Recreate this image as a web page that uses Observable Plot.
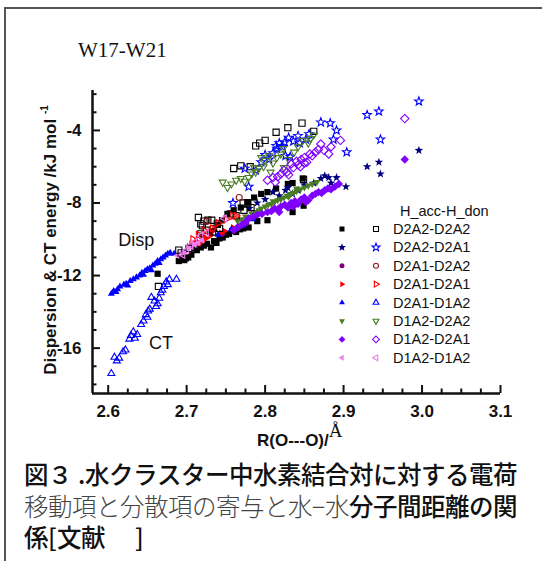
<!DOCTYPE html>
<html>
<head>
<meta charset="utf-8">
<script src="https://cdn.jsdelivr.net/npm/d3@7"></script>
<script src="https://cdn.jsdelivr.net/npm/@observablehq/plot@0.6"></script>
<style>
  @font-face { font-family: "CapCJK"; font-weight: 500; src: local("Noto Sans CJK JP Medium"), local("NotoSansCJKjp-Medium"), local("Noto Sans CJK JP Bold"), local("NotoSansCJKjp-Bold"); ascent-override: 88%; descent-override: 12%; line-gap-override: 0%; }
  @font-face { font-family: "CapCJK"; font-weight: 300; src: local("Noto Sans CJK JP Light"), local("NotoSansCJKjp-Light"), local("Noto Sans CJK JP DemiLight"), local("NotoSansCJKjp-DemiLight"), local("Noto Sans CJK JP Regular"), local("NotoSansCJKjp-Regular"); ascent-override: 88%; descent-override: 12%; line-gap-override: 0%; }
  html, body { margin: 0; padding: 0; background: #fff; }
  #page { position: relative; width: 542px; height: 561px; overflow: hidden; background: #fff; }
  .abs { position: absolute; white-space: nowrap; }
  .cap { font-family: "CapCJK", "Noto Sans CJK JP", "Noto Sans CJK SC", sans-serif; font-size: 24.5px; line-height: 31.5px; color: #111; font-weight: 500; }
  .thin { color: #444; font-weight: 300; }
</style>
</head>
<body>
<div id="page">
  <div class="abs" style="left:4px;top:7px;width:700px;height:700px;border-top:2px solid #555;border-left:2px solid #555;"></div>
  <div class="abs" style="left:78px;top:40px;font-family:'Liberation Serif','Times New Roman',serif;font-size:21px;line-height:21px;color:#111;">W17-W21</div>
  <div id="chart" class="abs" style="left:0;top:60px;"></div>
  <div id="ylab" class="abs" style="left:51px;top:240px;transform:translate(-50%,-50%) rotate(-90deg);font-family:'Liberation Sans',Arial,sans-serif;font-weight:bold;font-size:17px;line-height:17px;color:#111;">Dispersion &amp; CT energy /kJ mol <span style="font-size:10px;position:relative;top:-8px;">-1</span></div>
  <div class="abs" style="left:257px;top:431px;font-family:'Liberation Sans',Arial,sans-serif;font-weight:bold;font-size:17px;line-height:17px;color:#111;">R(O---O)/<span style="font-family:'Liberation Serif',serif;font-weight:normal;font-size:19px;position:relative;top:-9px;">Å</span></div>
  <div class="abs cap" style="left:24px;top:459px;">図３ .水クラスター中水素結合対に対する電荷<br><span class="thin">移動項と分散項の寄与と水−水</span>分子間距離の関<br>係[文献　 ]</div>
</div>
<script>
// ---------- data ----------
const seriesNames = ["D2A2-D2A2","D2A2-D2A1","D2A1-D2A2","D2A1-D2A1","D2A1-D1A2","D1A2-D2A2","D1A2-D2A1","D1A2-D1A2"];
const legendTitle = "H_acc-H_don";
const xMajor = [2.6, 2.7, 2.8, 2.9, 3.0, 3.1];
const xTickLabels = ["2.6","2.7","2.8","2.9","3.0","3.1"];
const xMinor = [2.625,2.65,2.675,2.725,2.75,2.775,2.825,2.85,2.875,2.925,2.95,2.975,3.025,3.05,3.075];
const yMajor = [-16, -12, -8, -4];
const yTickLabels = ["-16","-12","-8","-4"];
const yMinor = [-18,-17,-15,-14,-13,-11,-10,-9,-7,-6,-5,-3,-2];
const xDomain = [2.58, 3.1];
const yDomain = [-18.5, -1.8];
const annotations = [{x: 2.6127, y: -10.08, text: "Disp"}, {x: 2.652, y: -15.71, text: "CT"}];

// filled = dispersion, open = CT
const disp_D2A2_D2A2 = [[2.663,-11.9],[2.69,-11.2],[2.693,-11.1],[2.697,-11.15],[2.699,-11.05],[2.702,-11.0],[2.706,-10.85],[2.71,-10.5],[2.713,-10.6],[2.718,-10.45],[2.722,-10.35],[2.726,-10.25],[2.731,-10.45],[2.735,-10.1],[2.738,-10.2],[2.742,-9.95],[2.746,-9.9],[2.75,-9.75],[2.754,-9.7],[2.758,-9.55],[2.763,-9.6],[2.768,-9.45],[2.772,-9.4],[2.779,-9.35],[2.79,-9.0],[2.803,-8.95],[2.835,-8.5],[2.849,-8.15],[2.72,-9.8],[2.73,-9.6],[2.74,-9.2],[2.745,-8.95],[2.752,-8.6],[2.76,-8.4],[2.769,-8.25],[2.778,-7.95],[2.786,-7.7],[2.795,-7.5],[2.803,-7.4],[2.814,-7.2],[2.829,-6.95],[2.835,-6.9],[2.848,-6.65]];
const ct_D2A2_D2A2 = [[2.664,-12.6],[2.69,-10.6],[2.693,-10.75],[2.703,-10.5],[2.715,-8.8],[2.718,-9.15],[2.72,-9.25],[2.722,-9.0],[2.725,-9.5],[2.718,-9.7],[2.727,-8.95],[2.732,-8.95],[2.733,-9.6],[2.739,-9.15],[2.742,-9.4],[2.756,-8.6],[2.763,-8.7],[2.772,-8.0],[2.773,-8.4],[2.778,-8.0],[2.782,-8.25],[2.76,-6.1],[2.769,-5.95],[2.781,-6.0],[2.788,-4.85],[2.793,-4.7],[2.8,-4.55],[2.814,-4.1],[2.829,-3.85],[2.847,-3.6],[2.862,-4.05],[2.849,-6.7]];
const disp_D2A2_D2A1 = [[2.78,-8.3],[2.79,-8.0],[2.8,-7.8],[2.81,-7.4],[2.818,-7.6],[2.826,-7.3],[2.829,-7.15],[2.835,-7.5],[2.842,-7.3],[2.85,-7.0],[2.862,-6.9],[2.871,-6.65],[2.876,-6.5],[2.881,-6.6],[2.884,-6.9],[2.891,-6.6],[2.903,-7.1],[2.93,-6.0],[2.945,-5.75],[2.947,-6.4],[2.996,-5.1]];
const ct_D2A2_D2A1 = [[2.759,-8.0],[2.774,-6.1],[2.779,-7.1],[2.788,-6.2],[2.795,-5.75],[2.8,-5.35],[2.805,-5.6],[2.81,-5.25],[2.814,-4.85],[2.818,-4.7],[2.822,-4.9],[2.826,-5.4],[2.83,-4.4],[2.832,-5.45],[2.836,-4.6],[2.842,-4.3],[2.844,-4.7],[2.852,-4.5],[2.856,-4.2],[2.871,-3.55],[2.883,-3.6],[2.887,-4.5],[2.891,-4.0],[2.904,-5.2],[2.93,-3.15],[2.945,-2.95],[2.947,-4.5],[2.996,-2.4],[2.815,-5.0],[2.825,-4.65]];
const disp_D2A1_D2A2 = [[2.745,-9.7],[2.765,-9.35],[2.776,-9.1]];
const ct_D2A1_D2A2 = [[2.767,-7.7],[2.733,-9.4],[2.726,-9.0]];
const disp_D2A1_D2A1 = [[2.703,-10.4],[2.706,-10.25],[2.712,-10.1],[2.716,-10.25],[2.72,-10.1],[2.725,-9.95],[2.73,-9.8],[2.735,-9.5],[2.744,-9.65],[2.748,-9.55],[2.759,-9.35]];
const ct_D2A1_D2A1 = [[2.708,-10.0],[2.715,-9.75],[2.722,-9.5],[2.725,-9.8],[2.733,-9.4],[2.74,-9.1],[2.75,-8.9],[2.759,-8.7],[2.763,-8.7]];
const disp_D2A1_D1A2 = [[2.604,-13.0],[2.607,-12.85],[2.61,-12.9],[2.612,-12.75],[2.615,-12.6],[2.62,-12.5],[2.623,-12.45],[2.625,-12.55],[2.628,-12.3],[2.632,-12.2],[2.636,-12.1],[2.64,-12.0],[2.643,-11.85],[2.645,-11.95],[2.647,-11.75],[2.65,-11.65],[2.653,-11.6],[2.655,-11.7],[2.657,-11.45],[2.66,-11.35],[2.663,-11.2],[2.665,-11.3],[2.667,-11.1],[2.67,-11.0],[2.673,-10.9],[2.676,-10.8],[2.679,-10.75],[2.684,-10.8],[2.74,-9.75],[2.757,-9.45],[2.772,-9.25],[2.785,-8.9]];
const ct_D2A1_D1A2 = [[2.604,-17.4],[2.608,-16.5],[2.611,-16.7],[2.614,-16.55],[2.619,-16.2],[2.622,-16.1],[2.627,-15.5],[2.629,-15.3],[2.632,-15.1],[2.634,-15.45],[2.637,-15.25],[2.642,-14.7],[2.645,-14.5],[2.648,-14.15],[2.65,-14.3],[2.651,-13.95],[2.653,-13.85],[2.655,-13.2],[2.659,-13.4],[2.661,-13.7],[2.663,-13.55],[2.665,-13.25],[2.667,-12.95],[2.669,-12.8],[2.671,-12.6],[2.674,-12.35],[2.676,-12.5],[2.678,-12.2],[2.687,-12.2]];
const disp_D1A2_D2A2 = [[2.765,-9.0],[2.77,-8.9],[2.775,-8.75],[2.779,-8.8],[2.783,-8.6],[2.788,-8.5],[2.79,-8.55],[2.792,-8.4],[2.795,-8.3],[2.8,-8.2],[2.804,-8.1],[2.808,-8.05],[2.81,-7.9],[2.812,-7.95],[2.816,-7.85],[2.82,-7.8],[2.824,-7.7],[2.828,-7.6],[2.83,-7.65],[2.832,-7.5],[2.836,-7.45],[2.84,-7.35],[2.84,-7.2],[2.845,-7.25],[2.85,-7.15],[2.855,-7.05],[2.86,-6.95],[2.866,-6.85]];
const ct_D1A2_D2A2 = [[2.746,-6.85],[2.752,-7.15],[2.757,-6.95],[2.763,-6.75],[2.769,-6.65],[2.774,-6.8],[2.779,-6.6],[2.783,-6.4],[2.786,-6.05],[2.788,-6.3],[2.792,-6.1],[2.795,-5.5],[2.798,-6.0],[2.8,-5.65],[2.805,-5.4],[2.807,-6.3],[2.81,-5.8],[2.815,-5.5],[2.82,-5.3],[2.823,-5.0],[2.824,-6.05],[2.83,-5.6],[2.837,-5.2],[2.842,-4.9],[2.848,-4.55],[2.855,-4.7],[2.858,-4.45],[2.862,-4.25]];
const disp_D1A2_D2A1 = [[2.76,-9.5],[2.765,-9.35],[2.77,-9.2],[2.775,-9.05],[2.779,-8.85],[2.785,-8.75],[2.79,-8.65],[2.796,-8.6],[2.803,-8.5],[2.808,-8.45],[2.812,-8.3],[2.816,-8.35],[2.818,-8.5],[2.82,-8.2],[2.825,-8.1],[2.829,-8.25],[2.833,-8.0],[2.836,-8.2],[2.838,-7.9],[2.842,-8.05],[2.846,-7.8],[2.85,-7.7],[2.852,-7.95],[2.855,-7.85],[2.86,-7.6],[2.864,-7.5],[2.868,-7.4],[2.872,-7.45],[2.876,-7.3],[2.88,-7.2],[2.884,-7.25],[2.889,-7.1],[2.894,-6.95],[2.978,-5.6]];
const ct_D1A2_D2A1 = [[2.803,-6.75],[2.81,-6.6],[2.813,-6.85],[2.816,-6.55],[2.82,-6.4],[2.824,-6.2],[2.828,-6.3],[2.83,-6.45],[2.833,-5.85],[2.836,-6.05],[2.84,-5.7],[2.842,-5.9],[2.845,-6.0],[2.846,-5.6],[2.85,-5.5],[2.85,-5.8],[2.853,-5.75],[2.857,-5.3],[2.86,-5.4],[2.864,-5.2],[2.868,-5.05],[2.871,-4.75],[2.875,-5.1],[2.881,-5.3],[2.884,-4.9],[2.896,-4.55],[2.978,-3.35]];
const disp_D1A2_D1A2 = [[2.688,-10.9],[2.693,-10.75],[2.698,-10.65],[2.702,-10.55],[2.706,-10.4],[2.71,-10.3],[2.715,-10.2],[2.72,-10.05]];
const ct_D1A2_D1A2 = [[2.695,-10.85],[2.7,-10.6],[2.705,-10.35],[2.71,-10.15],[2.718,-9.8],[2.725,-9.65],[2.748,-8.85]];

const dispData = [disp_D2A2_D2A2, disp_D2A2_D2A1, disp_D2A1_D2A2, disp_D2A1_D2A1, disp_D2A1_D1A2, disp_D1A2_D2A2, disp_D1A2_D2A1, disp_D1A2_D1A2];
const ctData = [ct_D2A2_D2A2, ct_D2A2_D2A1, ct_D2A1_D2A2, ct_D2A1_D2A1, ct_D2A1_D1A2, ct_D1A2_D2A2, ct_D1A2_D2A1, ct_D1A2_D1A2];

// ---------- styles ----------
const dispColors = ["#000000","#00007f","#800080","#ff0000","#0000ff","#4a7d22","#8000ff","#f080f0"];
const ctColors   = ["#000000","#0000ff","#8b1a1a","#ff0000","#0000ff","#4a7d22","#8000ff","#f080f0"];
const symbolKinds = ["square","star","circle","right","up","down","diamond","left"];
const plotR = [3.1, 3.2, 3.0, 3.1, 3.1, 3.1, 3.1, 3.1];
const legendR = [2.5, 3.0, 2.5, 2.6, 2.6, 2.6, 2.5, 2.6];

function makeSym(kind) {
  return {
    draw(ctx, size) {
      const r = Math.sqrt(size / Math.PI);
      if (kind === "square") { ctx.moveTo(-r,-r); ctx.lineTo(r,-r); ctx.lineTo(r,r); ctx.lineTo(-r,r); ctx.closePath(); return; }
      if (kind === "circle") { ctx.moveTo(r,0); ctx.arc(0,0,r,0,2*Math.PI); ctx.closePath(); return; }
      if (kind === "diamond") { const q = r*1.35; ctx.moveTo(0,-q); ctx.lineTo(q,0); ctx.lineTo(0,q); ctx.lineTo(-q,0); ctx.closePath(); return; }
      if (kind === "star") {
        const R = r*1.4, ri = R*0.42;
        for (let k = 0; k < 10; k++) {
          const a = -Math.PI/2 + k*Math.PI/5, rr = k % 2 ? ri : R;
          const px = rr*Math.cos(a), py = rr*Math.sin(a);
          if (k) ctx.lineTo(px, py); else ctx.moveTo(px, py);
        }
        ctx.closePath(); return;
      }
      const base = {up: -Math.PI/2, down: Math.PI/2, right: 0, left: Math.PI}[kind];
      const R = r*1.3;
      for (let k = 0; k < 3; k++) {
        const a = base + k*2*Math.PI/3;
        const px = R*Math.cos(a), py = R*Math.sin(a);
        if (k) ctx.lineTo(px, py); else ctx.moveTo(px, py);
      }
      ctx.closePath();
    }
  };
}
const SYM = Object.fromEntries(symbolKinds.map(k => [k, makeSym(k)]));

// ---------- plot ----------
const marks = [];
dispData.forEach((data, i) => {
  marks.push(Plot.dot(data, {x: d => d[0], y: d => d[1], symbol: SYM[symbolKinds[i]], r: plotR[i], fill: dispColors[i], stroke: "none"}));
});
ctData.forEach((data, i) => {
  marks.push(Plot.dot(data, {x: d => d[0], y: d => d[1], symbol: SYM[symbolKinds[i]], r: plotR[i], fill: "none", stroke: ctColors[i], strokeWidth: 1.1}));
});

const fontAxis = "'Liberation Sans', Arial, sans-serif";
const chart = Plot.plot({
  width: 542, height: 400,
  marginLeft: 92, marginRight: 42, marginTop: 30, marginBottom: 67,
  x: {domain: xDomain},
  y: {domain: yDomain},
  style: {fontFamily: fontAxis, background: "transparent", overflow: "visible", color: "#111"},
  marks: [
    ...marks,
    Plot.text(annotations, {x: "x", y: "y", text: "text", textAnchor: "start", fontSize: 18, fill: "#111"}),
    // axis lines
    Plot.ruleX([xDomain[0]], {stroke: "#111", strokeWidth: 2.5}),
    Plot.ruleY([yDomain[0]], {stroke: "#111", strokeWidth: 2.5}),
    // inward ticks
    Plot.ruleX(xMajor, {x: d => d, y1: yDomain[0], y2: yDomain[0], insetTop: -8, stroke: "#111", strokeWidth: 2}),
    Plot.ruleX(xMinor, {x: d => d, y1: yDomain[0], y2: yDomain[0], insetTop: -4.5, stroke: "#111", strokeWidth: 2}),
    Plot.ruleY(yMajor, {y: d => d, x1: xDomain[0], x2: xDomain[0], insetRight: -8, stroke: "#111", strokeWidth: 2}),
    Plot.ruleY(yMinor, {y: d => d, x1: xDomain[0], x2: xDomain[0], insetRight: -4.5, stroke: "#111", strokeWidth: 2}),
    // tick labels
    Plot.axisX(xMajor, {tickSize: 0, tickPadding: 11, tickFormat: d => xTickLabels[xMajor.indexOf(d)], fontSize: 17, fontWeight: "bold", label: null}),
    Plot.axisY(yMajor, {tickSize: 0, tickPadding: 11, tickFormat: d => yTickLabels[yMajor.indexOf(d)], fontSize: 17, fontWeight: "bold", label: null})
  ]
});
document.getElementById("chart").appendChild(chart);

// ---------- legend ----------
const leg = d3.select("#page").append("svg")
  .attr("width", 542).attr("height", 561)
  .style("position", "absolute").style("left", "0px").style("top", "0px");
leg.append("text").attr("x", 400).attr("y", 211).attr("dominant-baseline", "central")
  .attr("font-family", fontAxis).attr("font-size", 14.5).attr("fill", "#111").text(legendTitle);
seriesNames.forEach((name, i) => {
  const y = 229 + i * 18.4;
  const kind = symbolKinds[i];
  const p1 = d3.path(); SYM[kind].draw(p1, legendR[i]*legendR[i]*Math.PI);
  leg.append("path").attr("d", p1.toString()).attr("transform", `translate(342,${y})`).attr("fill", dispColors[i]);
  const p2 = d3.path(); SYM[kind].draw(p2, legendR[i]*legendR[i]*Math.PI);
  leg.append("path").attr("d", p2.toString()).attr("transform", `translate(376,${y})`).attr("fill", "none").attr("stroke", ctColors[i]).attr("stroke-width", 1.1);
  leg.append("text").attr("x", 393).attr("y", y).attr("dominant-baseline", "central")
    .attr("font-family", fontAxis).attr("font-size", 14.5).attr("fill", "#111").text(name);
});
</script>
</body>
</html>
